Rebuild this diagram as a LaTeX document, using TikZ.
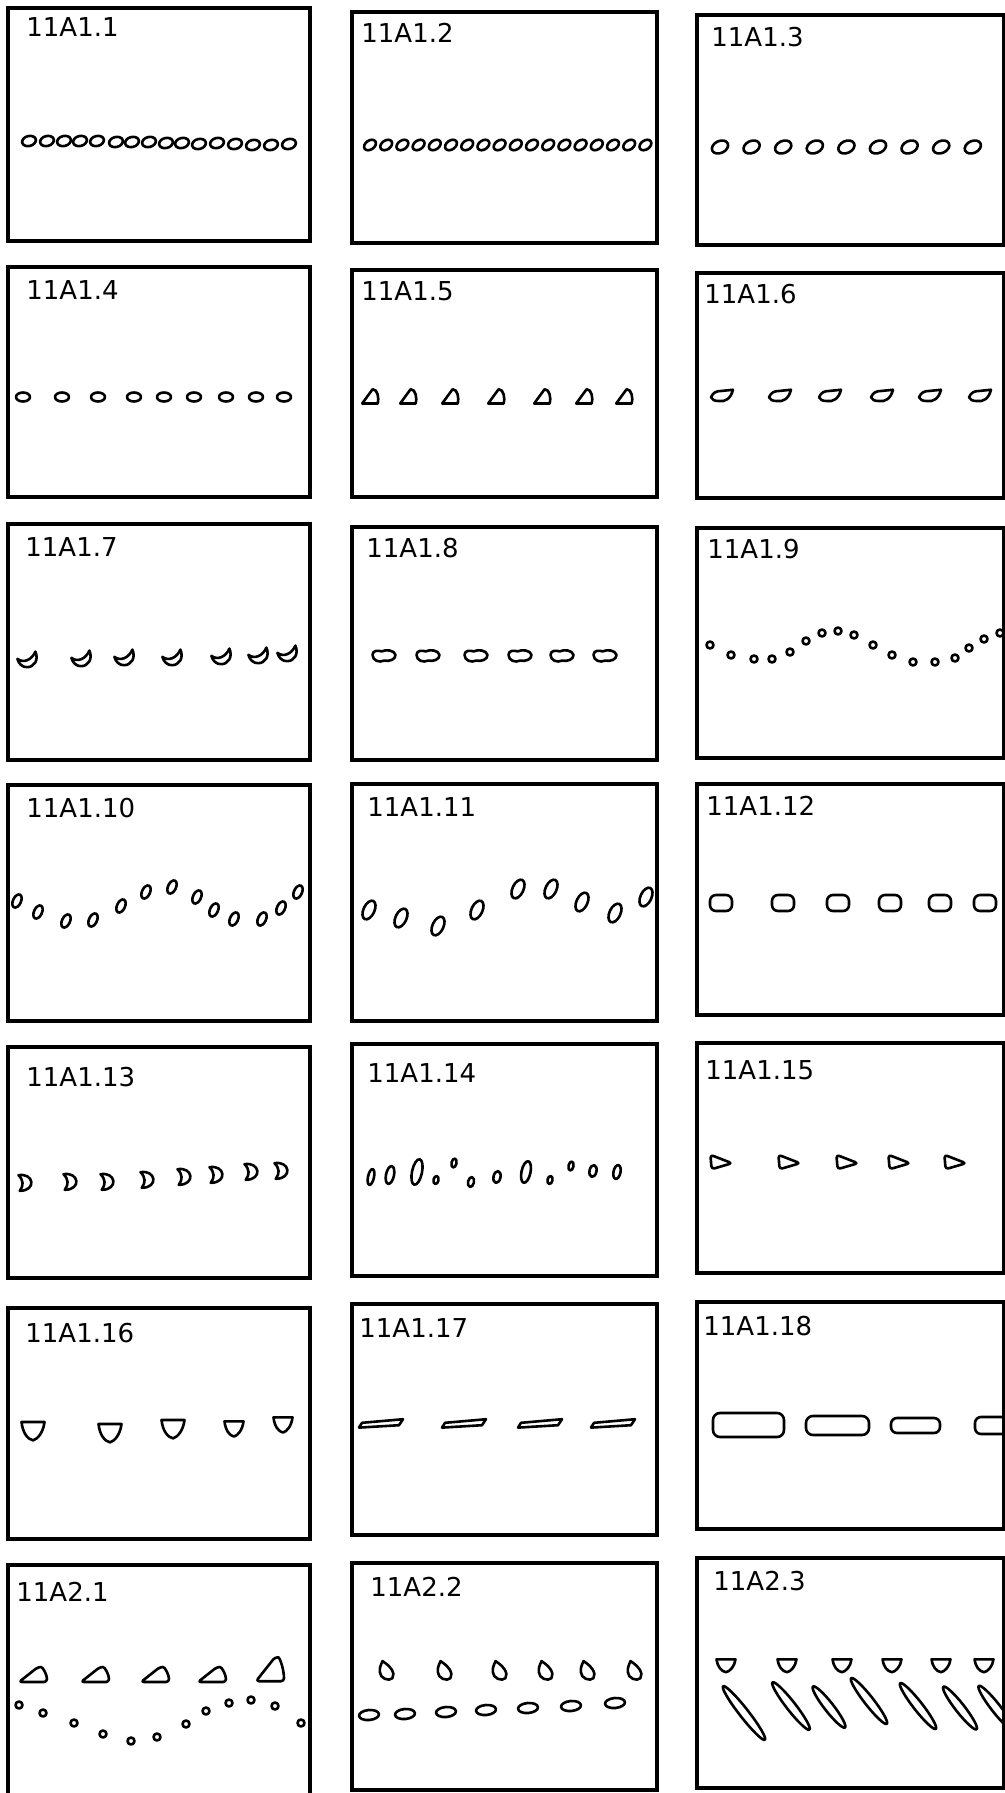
\documentclass[tikz,border=0pt]{standalone}
\usepackage{fontspec}
\newfontfamily\lblfont{DejaVu Sans}

\begin{document}
\begin{tikzpicture}[x=0.5pt, y=-0.5pt,
    panel/.style={line width=1.7pt},
    shp/.style={line width=1.3pt, line join=round},
    lbl/.style={anchor=west, inner sep=0pt, font=\lblfont\fontsize{13}{15}\selectfont},
    tear/.pic={\draw[shp] (-6,5) -- (2,-6) .. controls (6,-6) and (7,1) .. (6,5) -- cycle;},
    leaf/.pic={\draw[shp] (-10,1) .. controls (-8,-3) and (-5,-4) .. (-1,-4) -- (10,-5) .. controls (8,2) and (3,5) .. (-3,4) .. controls (-7,4) and (-9,3) .. (-10,1) -- cycle;},
    moon/.pic={\draw[shp] (-8,-1) .. controls (-3,3) and (4,0) .. (7,-7) .. controls (10,0) and (6,6) .. (0,6) .. controls (-4,6) and (-7,3) .. (-8,-1) -- cycle;},
    blob/.pic={\draw[shp] (-10,-1) .. controls (-10,-5) and (-5,-5) .. (-2,-4) .. controls (2,-6) and (9,-5) .. (10,-1) .. controls (10,3) and (5,5) .. (0,4) .. controls (-4,6) and (-10,4) .. (-10,-1) -- cycle;},
    dee/.pic={\draw[shp] (-5,-6) .. controls (7,-8) and (9,6) .. (-4,6) .. controls (-1,2) and (-1,-2) .. (-5,-6) -- cycle;},
    wedge/.pic={\draw[shp, rounded corners=1.5pt] (-8,-6) -- (10,1) -- (-7,6) -- cycle;},
    shield/.pic={\draw[shp] (-10,-7) -- (10,-7) .. controls (9,2) and (4,8) .. (0,9) .. controls (-5,8) and (-9,2) .. (-10,-7) -- cycle;},
    dart/.pic={\draw[shp] (-22,3) -- (-19,-1) -- (22,-4) -- (18,1) -- cycle;},
    hump/.pic={\draw[shp, rounded corners=1.5pt] (-14,7) -- (14,7) .. controls (14,0) and (10,-8) .. (5,-8) -- cycle;},
    drop/.pic={\draw[shp] (-5,-11) .. controls (3,-6) and (10,2) .. (6,8) .. controls (2,12) and (-8,8) .. (-8,1) .. controls (-8,-4) .. (-5,-11) -- cycle;}
]
\clip (0,0) rectangle (1005,1793);

% frames
\draw[panel] (8,8) rectangle (310,241);
\draw[panel] (352,12) rectangle (657,243);
\draw[panel] (697,15) rectangle (1004,245);
\draw[panel] (8,267) rectangle (310,497);
\draw[panel] (352,270) rectangle (657,497);
\draw[panel] (697,273) rectangle (1004,498);
\draw[panel] (8,524) rectangle (310,760);
\draw[panel] (352,527) rectangle (657,760);
\draw[panel] (697,528) rectangle (1004,758);
\draw[panel] (8,785) rectangle (310,1021);
\draw[panel] (352,784) rectangle (657,1021);
\draw[panel] (697,784) rectangle (1004,1015);
\draw[panel] (8,1047) rectangle (310,1278);
\draw[panel] (352,1044) rectangle (657,1276);
\draw[panel] (697,1043) rectangle (1004,1273);
\draw[panel] (8,1308) rectangle (310,1539);
\draw[panel] (352,1304) rectangle (657,1535);
\draw[panel] (697,1302) rectangle (1004,1529);
\draw[panel] (8,1565) rectangle (310,1810);
\draw[panel] (352,1563) rectangle (657,1790);
\draw[panel] (697,1558) rectangle (1004,1788);

% labels
\node[lbl] (A1n1)  at (26,27)    {11A1.1};
\node[lbl] (A1n2)  at (361,33)   {11A1.2};
\node[lbl] (A1n3)  at (711,37)   {11A1.3};
\node[lbl] (A1n4)  at (26,290)   {11A1.4};
\node[lbl] (A1n5)  at (361,291)  {11A1.5};
\node[lbl] (A1n6)  at (704,294)  {11A1.6};
\node[lbl] (A1n7)  at (25,547)   {11A1.7};
\node[lbl] (A1n8)  at (366,548)  {11A1.8};
\node[lbl] (A1n9)  at (707,549)  {11A1.9};
\node[lbl] (A1n10) at (26,808)   {11A1.10};
\node[lbl] (A1n11) at (367,807)  {11A1.11};
\node[lbl] (A1n12) at (706,806)  {11A1.12};
\node[lbl] (A1n13) at (26,1077)  {11A1.13};
\node[lbl] (A1n14) at (367,1073) {11A1.14};
\node[lbl] (A1n15) at (705,1070) {11A1.15};
\node[lbl] (A1n16) at (25,1333)  {11A1.16};
\node[lbl] (A1n17) at (359,1328) {11A1.17};
\node[lbl] (A1n18) at (703,1326) {11A1.18};
\node[lbl] (A2n1)  at (16,1592)  {11A2.1};
\node[lbl] (A2n2)  at (370,1587) {11A2.2};
\node[lbl] (A2n3)  at (713,1581) {11A2.3};

% shapes
\foreach \x/\y in {29/141,47/141,64/141,80/141,97/141,116/142,132/142,149/142,166/143,182/143,199/144,217/143,235/144,253/145,271/145,289/144}
  \draw[shp] (\x,\y) circle [x radius=7, y radius=5, rotate=15];
\foreach \i in {0,...,17}
  \draw[shp] ({370+16.2*\i},145) circle [x radius=6.5, y radius=4.5, rotate=35];
\foreach \i in {0,...,8}
  \draw[shp] ({720+31.6*\i},147) circle [x radius=8.5, y radius=6, rotate=25];

\foreach \x in {23,62,98,134,164,194,226,256,284}
  \draw[shp] (\x,397) circle [x radius=7, y radius=4.5];
\foreach \x in {370,408,450,496,542,584,624} \pic[scale=1.3] at (\x,397) {tear};
\foreach \x in {722,780,830,882,930,980} \pic[xscale=1.1, yscale=1.25] at (\x,396) {leaf};

\foreach \x/\y in {27/660,81/659,124/658,172/658,221/657,258/656,287/654} \pic[scale=1.2] at (\x,\y) {moon};
\foreach \x in {384,428,476,520,562,605} \pic[scale=1.15] at (\x,656) {blob};
\foreach \x/\y in {710/645,731/655,754/659,772/659,790/652,806/641,822/633,838/631,854/635,873/645,892/655,913/662,935/662,955/658,969/648,984/639,1000/633}
  \draw[shp] (\x,\y) circle [radius=3.5];

\foreach \x/\y in {17/901,38/912,66/921,93/920,121/906,146/892,172/887,197/897,214/910,234/919,262/919,281/908,298/892}
  \draw[shp] (\x,\y) circle [x radius=4, y radius=7, rotate=-25];
\foreach \x/\y in {369/910,401/918,438/926,477/910,518/889,551/889,582/902,615/913,646/897}
  \draw[shp] (\x,\y) circle [x radius=5.5, y radius=10, rotate=-25];
\foreach \x in {721,783,838,890,940,985}
  \draw[shp, rounded corners=3pt] ({\x-11},895) rectangle ({\x+11},911);

\foreach \x/\y in {25/1183,70/1182,107/1182,147/1180,184/1177,216/1175,251/1172,281/1171} \pic[scale=1.3] at (\x,\y) {dee};
\foreach \x/\y/\a/\b in {371/1177/3/8,390/1175/4/9,417/1172/5/13,436/1180/2.5/4,454/1163/2.5/4.5,471/1182/3/5,497/1177/3.5/6,526/1172/4.5/11,550/1180/2.5/4,571/1166/2.5/4.5,593/1171/3.5/6,617/1172/3.5/7}
  \draw[shp] (\x,\y) circle [x radius=\a, y radius=\b, rotate=-12];
\foreach \x in {720,788,846,898,954} \pic[scale=1.2] at (\x,1162) {wedge};

\foreach \x/\y/\s in {33/1430/1.15,110/1432/1.15,173/1428/1.15,234/1428/0.95,283/1424/0.95} \pic[scale=\s] at (\x,\y) {shield};
\foreach \x in {381,464,540,613} \pic[yscale=1.2] at (\x,1424) {dart};
\draw[shp, rounded corners=3.5pt] (713,1413) rectangle (784,1437);
\draw[shp, rounded corners=3.5pt] (806,1416) rectangle (869,1435);
\draw[shp, rounded corners=3pt] (891,1418) rectangle (940,1433);
\draw[shp, rounded corners=3pt] (975,1417) rectangle (1040,1434);

\foreach \x in {33,95,155,212} \pic at (\x,1675) {hump};
\pic[yscale=1.6] at (270,1670) {hump};
\foreach \x/\y in {19/1705,43/1713,74/1723,103/1734,131/1741,157/1737,186/1724,206/1711,229/1703,251/1700,275/1706,301/1723}
  \draw[shp] (\x,\y) circle [radius=3.5];
\foreach \x in {387,445,500,546,588,635} \pic[scale=0.9] at (\x,1671) {drop};
\foreach \x/\y in {369/1715,405/1714,446/1712,486/1710,528/1708,571/1706,615/1703}
  \draw[shp] (\x,\y) circle [x radius=10, y radius=5, rotate=5];
\foreach \x in {726,787,842,892,941,984} \pic[xscale=0.95, yscale=0.8] at (\x,1665) {shield};
\foreach \x/\y/\r in {744/1713/34,791/1706/30,829/1707/26,869/1701/29,918/1706/29,960/1708/27,996/1708/28}
  \draw[shp] (\x,\y) circle [x radius=4.5, y radius=\r, rotate=38];
\end{tikzpicture}
\end{document}
